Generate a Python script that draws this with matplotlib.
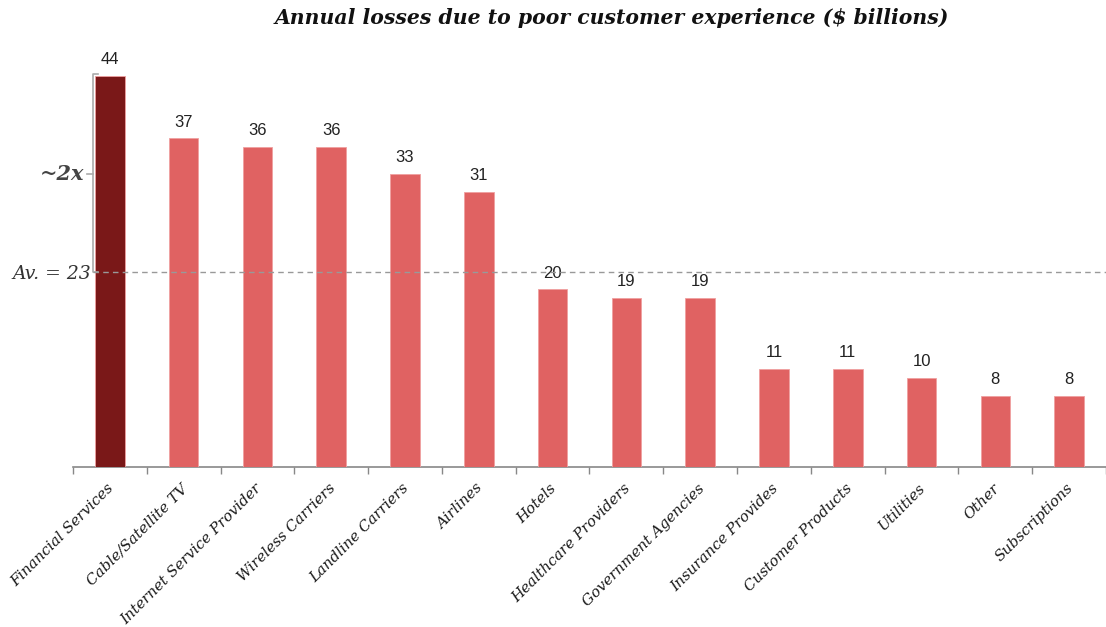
import matplotlib
matplotlib.use("Agg")
import matplotlib.pyplot as plt
import numpy as np

categories = ["Financial Services", "Cable/Satellite TV", "Internet Service Provider",
              "Wireless Carriers", "Landline Carriers", "Airlines", "Hotels",
              "Healthcare Providers", "Government Agencies", "Insurance Provides",
              "Customer Products", "Utilities", "Other", "Subscriptions"]
losses = [44, 37, 36, 36, 33, 31, 20, 19, 19, 11, 11, 10, 8, 8]
avg_label = "Av. = 23"
avg_level = 22  # where the dashed line sits in the picture
top_level = 44

serif = "DejaVu Serif"
sans = "Liberation Sans"

fig = plt.figure(figsize=(11.06, 6.27), dpi=100)
ax = fig.add_axes([0.066, 0.2552, 0.934, 0.708])

x = np.arange(len(categories))
colors = ["#7a1818"] + ["#e06262"] * (len(categories) - 1)
ax.bar(x, losses, width=0.4, color=colors, edgecolor="#f0a0a0", linewidth=0.6, zorder=3)

for xi, v in zip(x, losses):
    ax.text(xi, v + 1.0, str(v), ha="center", va="bottom", fontsize=12,
            family=sans, color="#222222")

ax.set_xlim(-0.5, len(categories) - 0.5)
ax.set_ylim(0, 50)

# category boundary ticks
ax.set_xticks(np.arange(len(categories) + 1) - 0.5)
ax.set_xticklabels([])
ax.tick_params(axis="x", length=5, color="#888888", width=1)
for xi, name in zip(x, categories):
    ax.text(xi - 0.04, -1.6, name, rotation=45, ha="right", va="top",
            rotation_mode="anchor", fontsize=10.7, family=serif, style="italic",
            color="#1a1a1a")

ax.set_yticks([])
for s in ["left", "right", "top"]:
    ax.spines[s].set_visible(False)
ax.spines["bottom"].set_color("#888888")
ax.spines["bottom"].set_linewidth(1.2)

# average line
ax.plot([-0.23, len(categories) - 0.5], [avg_level, avg_level], ls=(0, (4, 3)),
        color="#999999", lw=1, zorder=5, clip_on=False)

# bracket from average to top
bx = -0.23
ax.plot([bx + 0.07, bx, bx, bx + 0.07], [top_level + 0.3, top_level + 0.3, avg_level, avg_level],
        color="#aaaaaa", lw=1.2, clip_on=False, zorder=4)
mid = (top_level + avg_level) / 2
ax.plot([bx - 0.08, bx], [mid, mid], color="#aaaaaa", lw=1.2, clip_on=False)
ax.text(bx - 0.12, mid, "~2x", ha="right", va="center", fontsize=15, family=serif,
        style="italic", weight="bold", color="#444444")
ax.text(bx - 0.02, avg_level - 0.3, avg_label, ha="right", va="center", fontsize=13.5,
        family=serif, style="italic", color="#333333")

fig.text(0.553, 0.971, "Annual losses due to poor customer experience ($ billions)",
         ha="center", va="center", fontsize=14.7, family=serif, style="italic",
         weight="bold", color="#111111")

fig.savefig("out.png", dpi=100)
